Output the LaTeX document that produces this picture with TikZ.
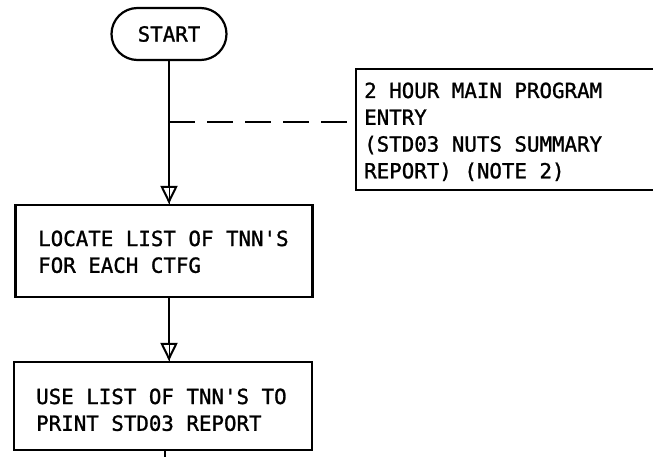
\documentclass[tikz,border=0pt]{standalone}
\usepackage{fontspec}
\setmonofont[FakeBold=1.2]{DejaVu Sans Mono}
\usetikzlibrary{arrows.meta}
\newcommand{\lines}[1]{\begin{tabular}[t]{@{}l@{}}#1\end{tabular}}
\begin{document}
\begin{tikzpicture}[x=1pt,y=-1pt,
  lbl/.style={font=\ttfamily\fontsize{20.8}{25.5}\selectfont,inner sep=0pt,anchor=base west},
  stepbox/.style={draw,line width=2.2pt,inner sep=0pt},
  flow/.style={line width=2.2pt,preaction={draw,-},
    -{Triangle[open,width=17pt,length=18pt,line width=2pt]}},
  plain/.style={line width=2.2pt}]
\useasboundingbox (0,0) rectangle (653,457);
% terminal
\node[draw,line width=2.2pt,rounded corners=26pt,minimum width=115pt,minimum height=52pt,
  font=\ttfamily\fontsize{20.8}{24}\selectfont] (start) at (169,34) {START};
% process boxes
\node[stepbox,minimum width=297pt,minimum height=92pt] (locate) at (164,251) {};
\node[stepbox,minimum width=298pt,minimum height=88pt] (use) at (163,406) {};
\renewcommand{\arraystretch}{1.05}
\node[lbl] (t1) at (38,246) {\lines{LOCATE LIST OF TNN'S\\FOR EACH CTFG}};
\node[lbl] (t2) at (36,404) {\lines{USE LIST OF TNN'S TO\\PRINT STD03 REPORT}};
% annotation bracket
\coordinate (ntop) at (653,69);
\coordinate (nbot) at (653,190);
\draw[plain] (ntop) -- (356,69) coordinate (nl1) -- (356,190) coordinate (nl2) -- (nbot);
\node[lbl] (note) at (364,98) {\lines{2 HOUR MAIN PROGRAM\\ENTRY\\(STD03 NUTS SUMMARY\\REPORT) (NOTE 2)}};
% connectors
\draw[flow] (start.south) -- (start.south |- locate.north);
\draw[flow] (locate.south -| start.south) -- (start.south |- use.north);
\coordinate (tail) at (165,457);
\draw[plain] (use.south -| tail) -- (tail);
\coordinate (tap) at (169,122);
\draw[plain,dash pattern=on 26pt off 12pt] (tap) -- (356,122);
\end{tikzpicture}
\end{document}
